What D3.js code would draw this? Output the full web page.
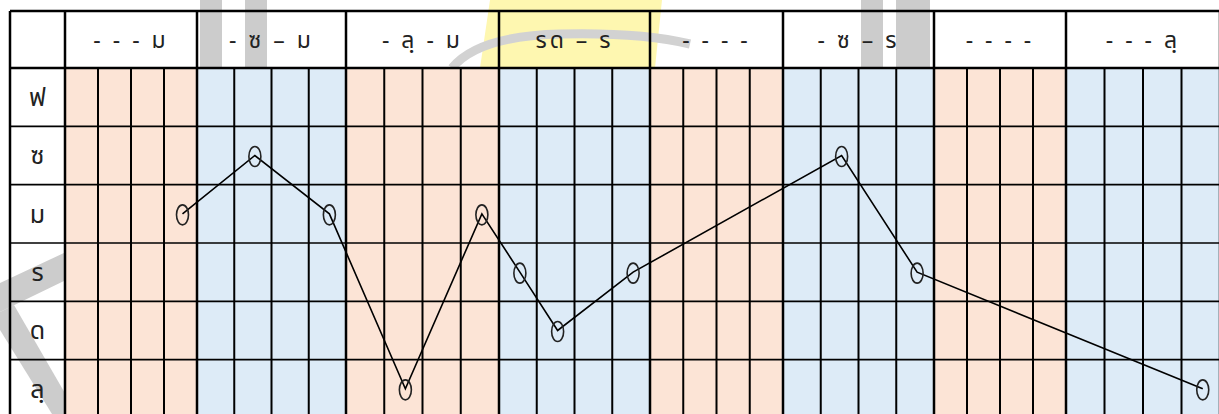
<!DOCTYPE html>
<html>
<head>
<meta charset="utf-8">
<script src="https://cdn.jsdelivr.net/npm/d3@7"></script>
<style>
  body { margin: 0; background: #fff; }
  svg { display: block; }
  text { font-family: "Noto Sans Thai", "Tahoma", "Noto Sans", sans-serif; fill: #222; }
</style>
</head>
<body>
<svg id="chart"></svg>
<script>
// notes of the scale, top row to bottom row
const rowNotes = ["ฟ", "ซ", "ม", "ร", "ด", "ลฺ"];
// one label per group of four beats
const headerLabels = ["- - - ม", "- ซ – ม", "- ลฺ - ม", "รด – ร", "- - - -", "- ซ – ร", "- - - -", "- - - ลฺ"];
// melody: beat index (0..31) and the note sounded there
const melodyBeats = [3, 5, 7, 9, 11, 12, 13, 15, 21, 23, 31];
const melodyNotes = ["ม", "ซ", "ม", "ลฺ", "ม", "ร", "ด", "ร", "ซ", "ร", "ลฺ"];

const W = 1219, H = 414;
const beatsPerGroup = 4;
const nGroups = headerLabels.length;
const nBeats = nGroups * beatsPerGroup;

// group borders as they sit on the page (groups are not all the same width)
const groupEdges = [65, 197, 346, 499, 650, 783, 934, 1066, 1220];
const tableLeft = 10, tableTop = 11, headerBottom = 68, tableBottom = 418;

const svg = d3.select("#chart").attr("width", W).attr("height", H);

// x: beat position -> pixel, piecewise per group
const x = d3.scaleLinear()
    .domain(d3.range(nGroups + 1).map(g => g * beatsPerGroup))
    .range(groupEdges);
const y = d3.scaleBand()
    .domain(rowNotes)
    .range([headerBottom, tableBottom]);

// faint watermark behind the table
let wm = svg.append("g").attr("class", "watermark");
wm.append("path")
    .attr("d", "M490,0 L662,0 L655,68 L480,68 Z")
    .attr("fill", "#fef7b0");
wm.append("path")
    .attr("d", "M452,68 Q478,36 560,34 Q640,32 690,44")
    .attr("fill", "none").attr("stroke", "#d2d2d2").attr("stroke-width", 9);
[[200, 222], [245, 267], [861, 883], [896, 930]].forEach(b => {
    wm.append("rect")
        .attr("x", b[0]).attr("y", 0)
        .attr("width", b[1] - b[0]).attr("height", headerBottom)
        .attr("fill", "#cccccc");
});
wm.append("path")
    .attr("d", "M0,283 L66,252 L66,280 L0,312 Z")
    .attr("fill", "#cccccc");
wm.append("path")
    .attr("d", "M0,312 L14,305 L66,395 L66,414 L52,414 L0,330 Z")
    .attr("fill", "#cccccc");

// coloured body cells, alternating per group
svg.append("g")
    .selectAll("rect")
    .data(d3.range(nGroups))
    .join("rect")
    .attr("x", g => x(g * beatsPerGroup))
    .attr("y", headerBottom)
    .attr("width", g => x((g + 1) * beatsPerGroup) - x(g * beatsPerGroup))
    .attr("height", tableBottom - headerBottom)
    .attr("fill", g => g % 2 === 0 ? "#fce4d6" : "#ddebf7");

// grid lines
let grid = svg.append("g").attr("stroke", "#000");
// horizontal row lines
grid.selectAll(".hrow")
    .data(rowNotes.slice(1))
    .join("line")
    .attr("x1", tableLeft).attr("x2", W)
    .attr("y1", d => y(d)).attr("y2", d => y(d))
    .attr("stroke-width", 1.6);
grid.append("line")
    .attr("x1", tableLeft).attr("x2", W)
    .attr("y1", tableTop).attr("y2", tableTop)
    .attr("stroke-width", 2.5);
grid.append("line")
    .attr("x1", tableLeft).attr("x2", W)
    .attr("y1", headerBottom).attr("y2", headerBottom)
    .attr("stroke-width", 2.5);
// beat lines inside the body
grid.selectAll(".vbeat")
    .data(d3.range(1, nBeats).filter(b => b % beatsPerGroup !== 0))
    .join("line")
    .attr("x1", b => x(b)).attr("x2", b => x(b))
    .attr("y1", headerBottom).attr("y2", tableBottom)
    .attr("stroke-width", 2);
// group lines, full height
grid.selectAll(".vgroup")
    .data(d3.range(0, nBeats + 1, beatsPerGroup))
    .join("line")
    .attr("x1", b => x(b)).attr("x2", b => x(b))
    .attr("y1", tableTop).attr("y2", tableBottom)
    .attr("stroke-width", 2.5);
grid.append("line")
    .attr("x1", tableLeft).attr("x2", tableLeft)
    .attr("y1", tableTop).attr("y2", tableBottom)
    .attr("stroke-width", 2.5);

// header labels
svg.append("g")
    .selectAll("text")
    .data(headerLabels)
    .join("text")
    .attr("x", (d, i) => x((i + 0.5) * beatsPerGroup))
    .attr("y", (tableTop + headerBottom) / 2)
    .attr("dy", "0.35em")
    .attr("text-anchor", "middle")
    .attr("font-size", "23px")
    .attr("letter-spacing", "3px")
    .style("white-space", "pre")
    .text(d => d);

// row labels
svg.append("g")
    .selectAll("text")
    .data(rowNotes)
    .join("text")
    .attr("x", (tableLeft + groupEdges[0]) / 2)
    .attr("y", d => y(d) + y.bandwidth() / 2)
    .attr("dy", "0.35em")
    .attr("text-anchor", "middle")
    .attr("font-size", "25px")
    .text(d => d);

// melody line and note heads
let pts = melodyBeats.map((b, i) => [x(b + 0.5) + 2, y(melodyNotes[i]) + y.bandwidth() / 2]);
svg.append("path")
    .attr("d", d3.line()(pts))
    .attr("fill", "none")
    .attr("stroke", "#000")
    .attr("stroke-width", 1.6);
svg.append("g")
    .selectAll("ellipse")
    .data(pts)
    .join("ellipse")
    .attr("cx", d => d[0])
    .attr("cy", d => d[1] + 1)
    .attr("rx", 6)
    .attr("ry", 10)
    .attr("fill", "none")
    .attr("stroke", "#222")
    .attr("stroke-width", 1.6);
</script>
</body>
</html>
